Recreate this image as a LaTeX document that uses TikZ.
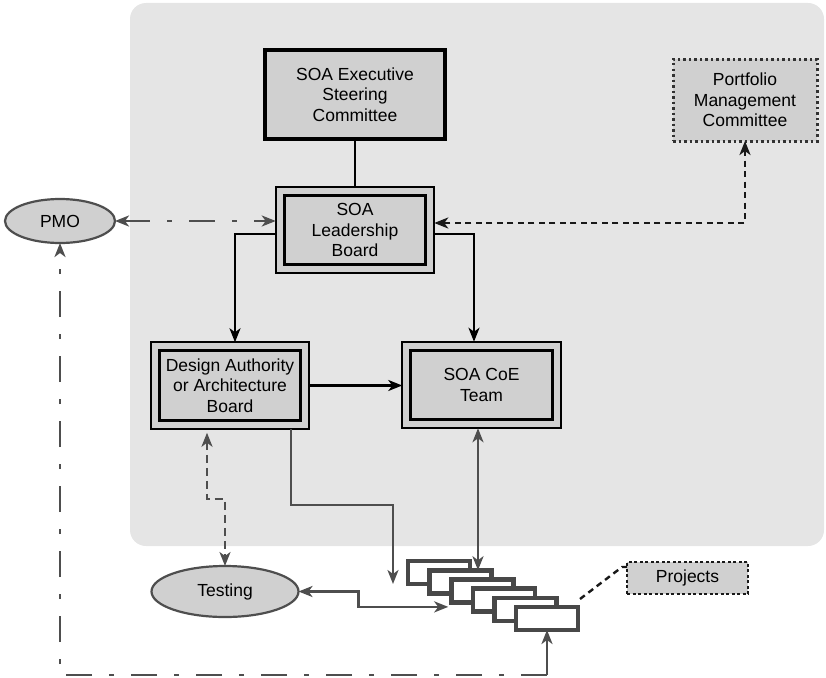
\documentclass[tikz,border=0pt]{standalone}
\usepackage{fontspec}
\setmainfont{Liberation Sans}
\usetikzlibrary{arrows.meta,calc,shapes.geometric}

\definecolor{panel}{RGB}{229,229,229}
\definecolor{boxfill}{RGB}{208,208,208}
\definecolor{linegray}{RGB}{78,78,78}
\definecolor{stackedge}{RGB}{72,72,72}
\definecolor{dotedge}{RGB}{50,50,50}

\tikzset{
  label text/.style={font=\fontsize{17.5}{20.5}\selectfont, align=center, inner sep=0pt, text=black},
  execbox/.style={label text, draw=black, line width=4.8pt, fill=boxfill,
    minimum width=180pt, minimum height=89pt, outer sep=0pt},
  dbox/.style={label text, draw=black, line width=1.8pt, fill=boxfill,
    minimum width=158.5pt, minimum height=86.5pt, outer sep=0pt},
  pfbox/.style={label text, draw=dotedge, line width=3pt, fill=boxfill,
    dash pattern=on 2.5pt off 3pt, minimum width=144pt, minimum height=82pt, outer sep=0pt},
  projlabel/.style={label text, draw=black!90, line width=2.4pt, fill=boxfill,
    dash pattern=on 3pt off 2.5pt, minimum width=121pt, minimum height=32pt, outer sep=0pt},
  oval/.style={label text, ellipse, draw=linegray, line width=2.2pt, fill=boxfill, outer sep=0pt},
  stackbox/.style={draw=stackedge, line width=4.6pt, fill=white,
    minimum width=62pt, minimum height=23pt, outer sep=0pt, inner sep=0pt},
  blk/.style={draw=black, line width=2.4pt},
  gline/.style={draw=linegray, line width=2.4pt},
  dashblk/.style={draw=black!90, line width=2.4pt, dash pattern=on 6pt off 4.5pt},
  dashgray/.style={draw=linegray, line width=2.4pt, dash pattern=on 8pt off 5pt},
  dashdot/.style={dash pattern=on 26pt off 17pt on 5pt off 17pt},
  tip/.style={-{Stealth[length=14pt,width=11pt,inset=4pt]}},
  tipboth/.style={{Stealth[length=14pt,width=11pt,inset=4pt]}-{Stealth[length=14pt,width=11pt,inset=4pt]}}
}

\begin{document}
\begin{tikzpicture}[x=1pt,y=-1pt]
\useasboundingbox (0,0) rectangle (826,677);

% grey governance panel
\fill[panel, rounded corners=16pt] (130,3) rectangle (824,546);

% governance bodies
\node[execbox] (exec) at (355,94.5) {SOA Executive\\Steering\\Committee};
\node[dbox] (lead) at (355,230) {SOA\\Leadership\\Board};
\node[dbox] (da) at (230,385.5) {Design Authority\\or Architecture\\Board};
\node[dbox] (coe) at (481.5,385) {SOA CoE\\Team};
\foreach \n in {lead,da,coe}
  \draw[line width=2.8pt] ($(\n.north west)+(8.5,8.5)$) rectangle ($(\n.south east)+(-8.5,-8.5)$);
\node[pfbox] (pf) at (745,100) {Portfolio\\Management\\Committee};

% outside parties
\node[oval, minimum width=110pt, minimum height=44pt] (pmo) at (60,221) {PMO};
\node[oval, minimum width=147pt, minimum height=51pt] (test) at (225,591.5) {Testing};

% stack of projects
\foreach \i in {0,...,5}
  \node[stackbox] (p\i) at ({439+21.6*\i},{572.5+9.2*\i}) {};
\node[projlabel] (projl) at (687.5,578) {Projects};

% reporting lines
\draw[blk] (exec.south) -- (lead.north);
\draw[blk, tip] ($(lead.west)+(0,4)$) -| ($(da.north)+(5,0)$);
\draw[blk, tip] ($(lead.east)+(0,4)$) -| ($(coe.north)+(-7.5,0)$);
\draw[blk, tip] (da.east) -- (da.east -| coe.west);

% PMO and portfolio links
\draw[gline, dashdot, tipboth] (pmo.east) -- (pmo.east -| lead.west);
\draw[dashblk, tipboth] (pf.south) |- ($(lead.east)+(0,-7)$);

% links down to testing and projects
\draw[dashgray, tipboth, shorten <=4pt] ($(da.south)+(-23,0)$) -- ++(0,70.5) -| (test.north);
\draw[gline, tip] ($(da.south)+(61,0)$) -- ++(0,76) -| ($(p0.south west)+(-15,0)$);
\coordinate (c1) at ($(coe.south)+(-3.5,0)$);
\draw[gline, tipboth] (c1) -- (c1 |- p1.north);
\draw[gline, tipboth] (test.east) -- ++(60,0) |- ($(p2.south west)+(-3,4.5)$);
\draw[dashblk]
  ($(p5.north east)+(2,-8)$) -- ($(projl.west)+(-5,-11)$) -- ($(projl.west)+(0,-11)$);

% feedback loop along the bottom
\coordinate (floor) at (0,675);
\draw[gline, tip] (p5.south |- floor) -- (p5.south);
\draw[gline, dashdot, tip] (p5.south |- floor) -- (pmo.south |- floor) -- (pmo.south);
\end{tikzpicture}
\end{document}
